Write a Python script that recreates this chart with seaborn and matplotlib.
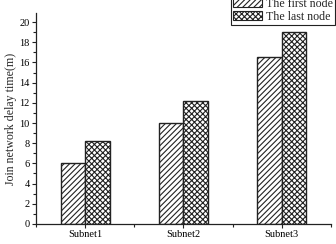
import matplotlib
matplotlib.use("Agg")
import matplotlib.pyplot as plt
import seaborn as sns
import pandas as pd
from matplotlib.patches import Patch
from matplotlib.ticker import MultipleLocator, FixedLocator

categories = ["Subnet1", "Subnet2", "Subnet3"]
series_names = ["The first node", "The last node"]
first_node = [6.0, 10.0, 16.5]
last_node = [8.2, 12.2, 19.0]
y_ticks = [0, 2, 4, 6, 8, 10, 12, 14, 16, 18, 20]

df = pd.DataFrame({
    "Subnet": categories * 2,
    "Series": [series_names[0]] * 3 + [series_names[1]] * 3,
    "Delay": first_node + last_node,
})

sns.set_style("ticks")
plt.rcParams["font.family"] = ["Liberation Serif", "DejaVu Serif"]
plt.rcParams["hatch.linewidth"] = 0.8
plt.rcParams["hatch.color"] = "#111111"

fig = plt.figure(figsize=(3.36, 2.44), dpi=100)
ax = fig.add_axes([0.107, 0.082, 0.878, 0.865])

sns.barplot(data=df, x="Subnet", y="Delay", hue="Series", order=categories,
            hue_order=series_names, width=0.5,
            palette=["white", "white"], edgecolor="#222222", linewidth=1.0,
            legend=False, ax=ax)

hatches = ["//////", "xxxxxx"]
for cont, h in zip(ax.containers, hatches):
    for bar in cont:
        bar.set_hatch(h)
        bar.set_edgecolor("#222222")

ax.set_xlim(-0.5, 2.5)
ax.set_ylim(0, 20.9)
ax.set_yticks(y_ticks)
ax.yaxis.set_minor_locator(MultipleLocator(1))
ax.xaxis.set_minor_locator(FixedLocator([-0.5, 0.5, 1.5, 2.5]))
ax.tick_params(axis="both", which="major", direction="out", length=3, width=0.8,
               labelsize=7.5, pad=1.5, colors="#222222")
ax.tick_params(axis="both", which="minor", direction="out", length=2, width=0.8,
               colors="#222222")
for lab in ax.get_xticklabels() + ax.get_yticklabels():
    lab.set_color("black")
ax.set_xlabel("")
ax.set_ylabel("Join network delay time(m)", fontsize=8.6, labelpad=2)
sns.despine(ax=ax)
for s in ["left", "bottom"]:
    ax.spines[s].set_linewidth(0.9)
    ax.spines[s].set_color("#222222")

handles = [Patch(facecolor="white", edgecolor="#222222", hatch=h, linewidth=0.8)
           for h in hatches]
leg = fig.legend(handles, series_names, loc="lower right",
                 bbox_to_anchor=(0.997, 0.897), fontsize=8.6, frameon=True,
                 fancybox=False, edgecolor="#222222", framealpha=1,
                 handlelength=2.4, handleheight=0.75, handletextpad=0.3,
                 borderpad=0.2, labelspacing=0.1, borderaxespad=0)
leg.get_frame().set_linewidth(0.8)

fig.savefig("out.png", dpi=100)
